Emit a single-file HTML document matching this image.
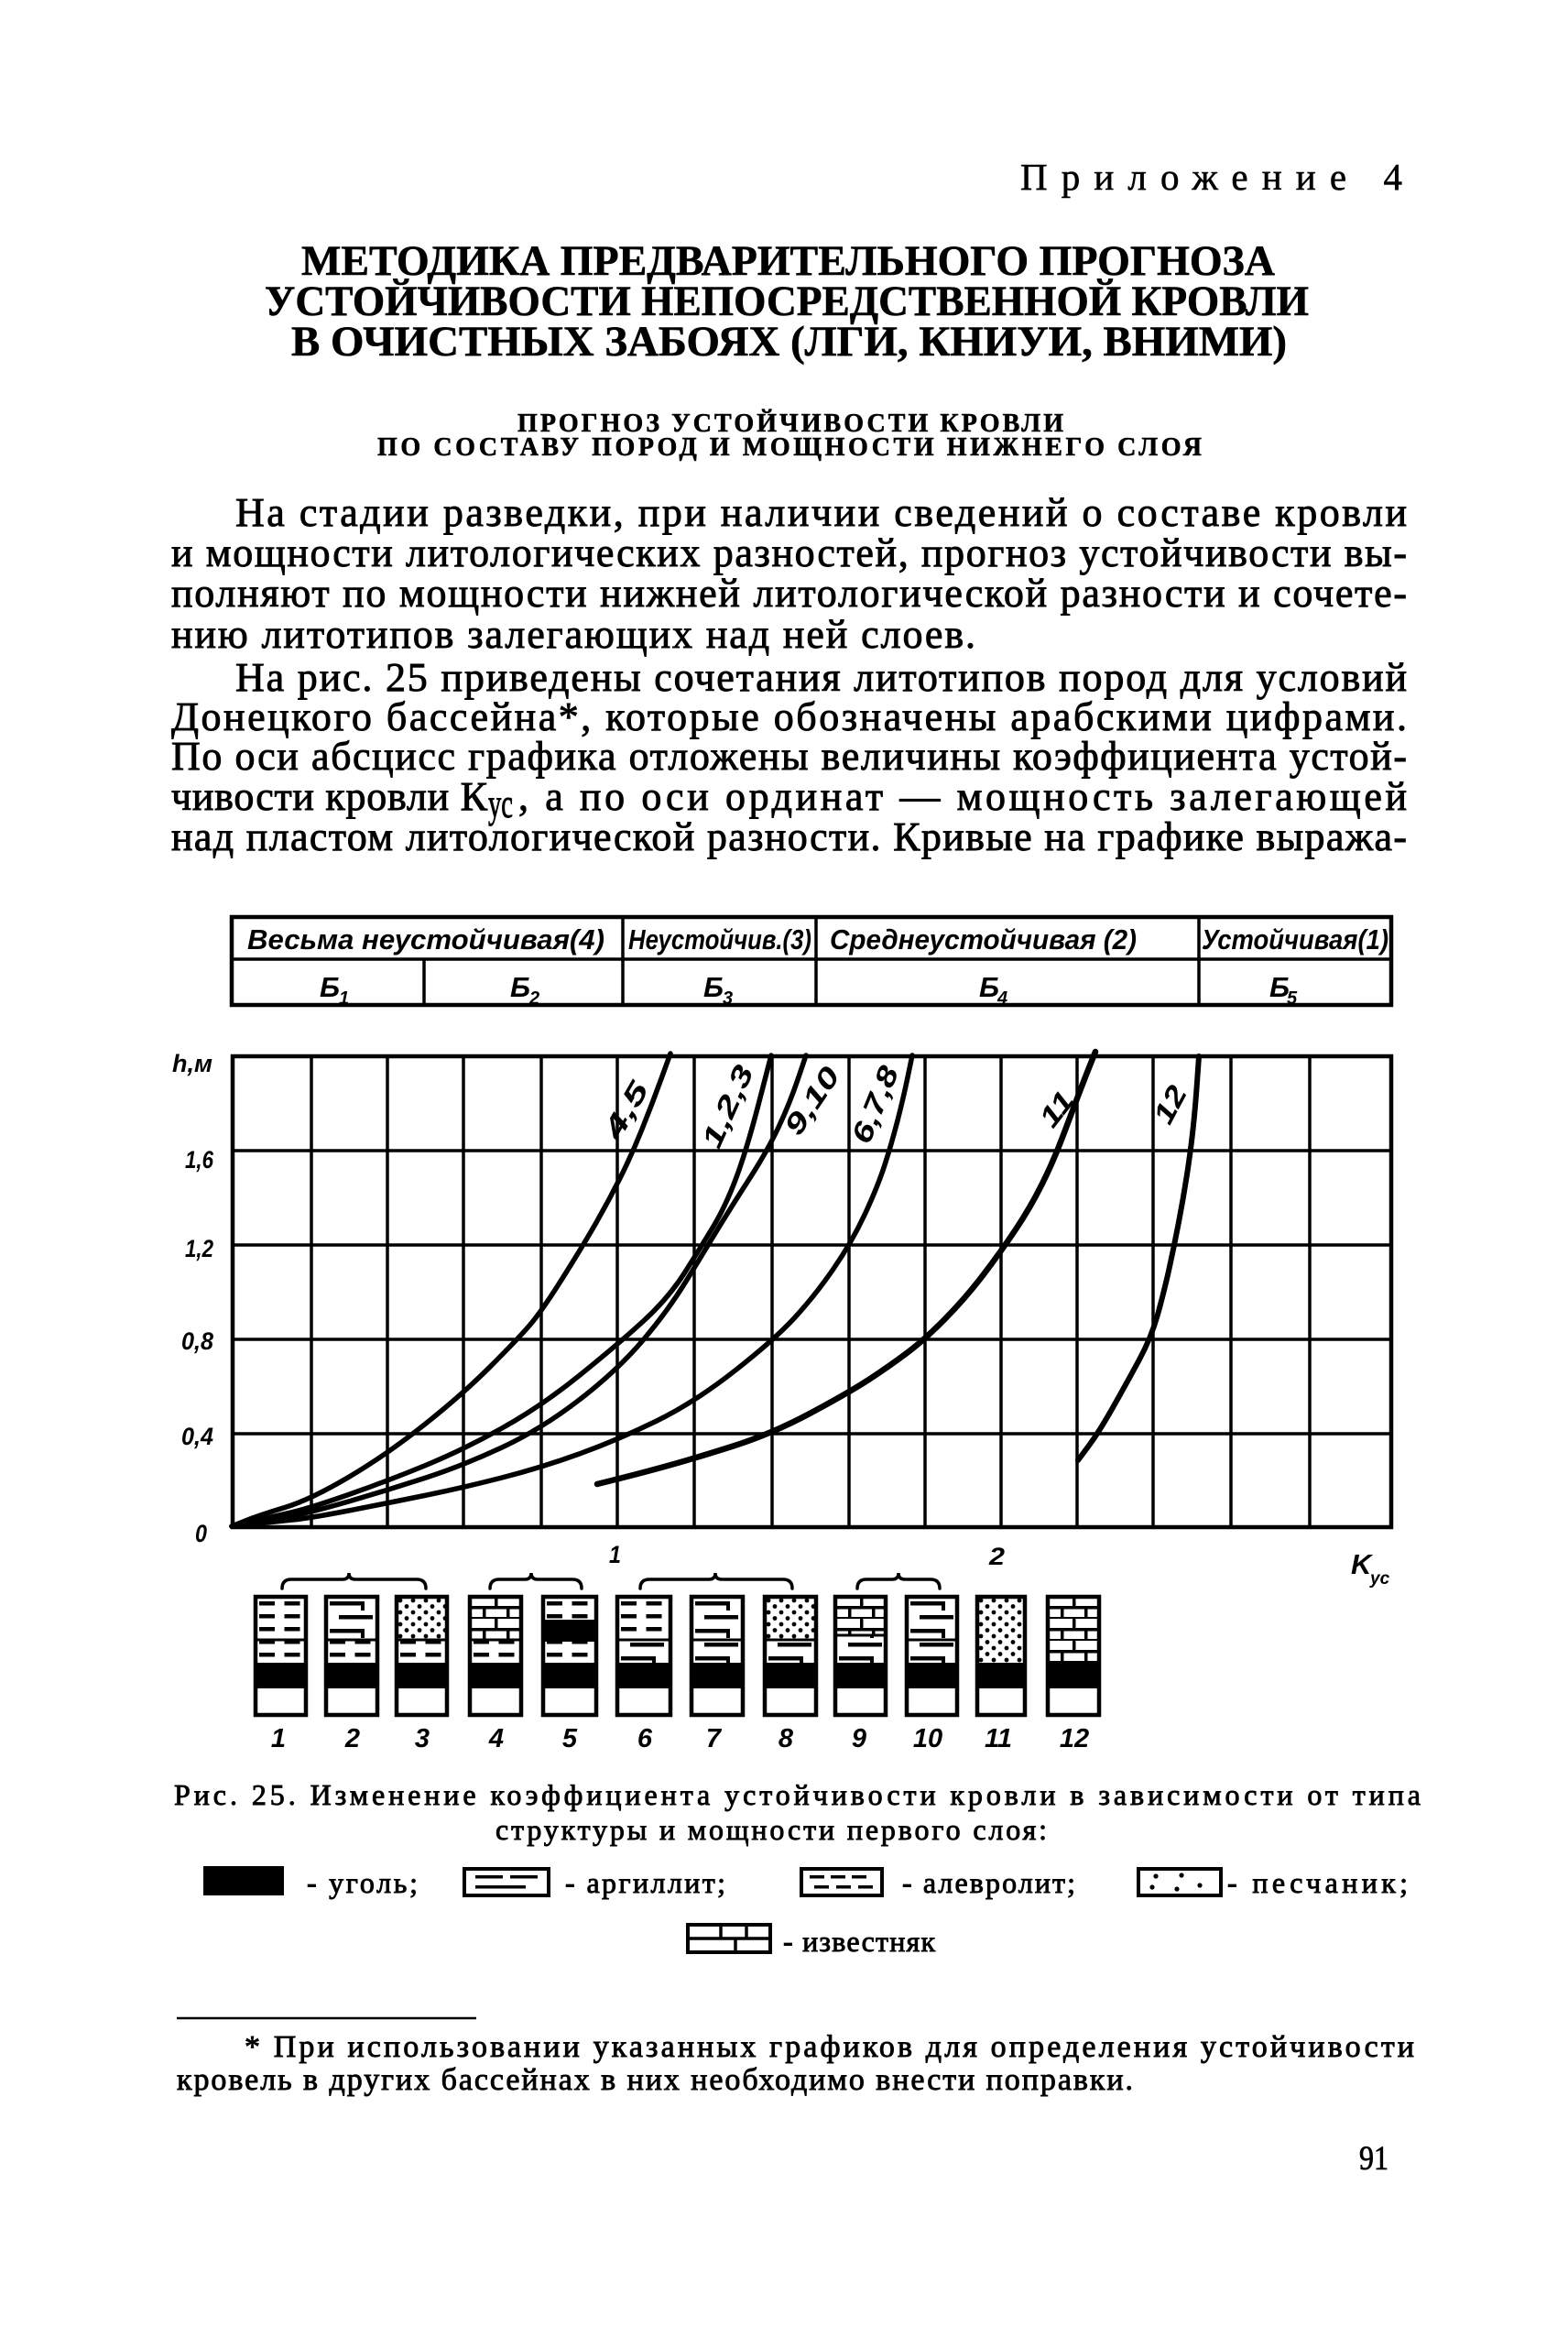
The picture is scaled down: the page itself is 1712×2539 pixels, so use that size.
<!DOCTYPE html>
<html><head><meta charset="utf-8">
<style>
html,body{margin:0;padding:0;background:#fff;width:1712px;height:2539px;overflow:hidden}
svg{display:block}
.serif{font-family:"Liberation Serif",serif}
.body{font-family:"Liberation Serif",serif;font-size:44px;stroke:#000;stroke-width:0.9}
.ttl{font-family:"Liberation Serif",serif;font-weight:bold;stroke:#000;stroke-width:0.6}
.it{font-family:"Liberation Sans",sans-serif;font-style:italic;font-weight:bold}
.cap{font-family:"Liberation Serif",serif;font-size:32px;stroke:#000;stroke-width:0.9}
</style></head>
<body>
<svg xmlns="http://www.w3.org/2000/svg" width="1712" height="2539" viewBox="0 0 1712 2539">
<defs>
<pattern id="alev" patternUnits="userSpaceOnUse" width="27.5" height="14"><rect x="4" y="5" width="17" height="4.5" fill="#000"/></pattern>
<pattern id="argil" patternUnits="userSpaceOnUse" width="55" height="30"><rect x="4" y="5" width="38" height="4.5" fill="#000"/><rect x="14" y="20" width="37" height="4.5" fill="#000"/><rect x="38" y="5" width="4" height="10" fill="#000"/></pattern>
<pattern id="sand" patternUnits="userSpaceOnUse" width="14" height="13"><circle cx="4" cy="4" r="2.4" fill="#000"/><circle cx="11" cy="10.5" r="2.4" fill="#000"/></pattern>
<pattern id="lime" patternUnits="userSpaceOnUse" width="55" height="24"><rect x="0" y="10" width="55" height="3.5" fill="#000"/><rect x="0" y="22" width="55" height="3.5" fill="#000"/><rect x="27" y="0" width="3.5" height="12" fill="#000"/><rect x="14" y="12" width="3.5" height="12" fill="#000"/><rect x="40" y="12" width="3.5" height="12" fill="#000"/></pattern>
</defs>
<rect width="1712" height="2539" fill="#fff"/>

<!-- Header -->
<text class="serif" x="1114" y="207" font-size="41" stroke="#000" stroke-width="0.6" textLength="417" lengthAdjust="spacing">Приложение 4</text>
<text class="ttl" x="329" y="300" font-size="47" textLength="1063" lengthAdjust="spacingAndGlyphs">МЕТОДИКА ПРЕДВАРИТЕЛЬНОГО ПРОГНОЗА</text>
<text class="ttl" x="289" y="344" font-size="47" textLength="1140" lengthAdjust="spacingAndGlyphs">УСТОЙЧИВОСТИ НЕПОСРЕДСТВЕННОЙ КРОВЛИ</text>
<text class="ttl" x="318" y="388" font-size="47" textLength="1087" lengthAdjust="spacingAndGlyphs">В ОЧИСТНЫХ ЗАБОЯХ (ЛГИ, КНИУИ, ВНИМИ)</text>
<text class="ttl" x="565" y="471" font-size="28" textLength="596" lengthAdjust="spacing">ПРОГНОЗ УСТОЙЧИВОСТИ КРОВЛИ</text>
<text class="ttl" x="412" y="497" font-size="28" textLength="900" lengthAdjust="spacing">ПО СОСТАВУ ПОРОД И МОЩНОСТИ НИЖНЕГО СЛОЯ</text>

<!-- Body -->
<text class="body" x="257" y="574" textLength="1279" lengthAdjust="spacing">На стадии разведки, при наличии сведений о составе кровли</text>
<text class="body" x="187" y="618" textLength="1349" lengthAdjust="spacing">и мощности литологических разностей, прогноз устойчивости вы-</text>
<text class="body" x="187" y="662" textLength="1349" lengthAdjust="spacing">полняют по мощности нижней литологической разности и сочете-</text>
<text class="body" x="187" y="707" textLength="878" lengthAdjust="spacing">нию литотипов залегающих над ней слоев.</text>
<text class="body" x="257" y="754" textLength="1279" lengthAdjust="spacing">На рис. 25 приведены сочетания литотипов пород для условий</text>
<text class="body" x="187" y="797" textLength="1349" lengthAdjust="spacing">Донецкого бассейна*, которые обозначены арабскими цифрами.</text>
<text class="body" x="187" y="840" textLength="1349" lengthAdjust="spacing">По оси абсцисс графика отложены величины коэффициента устой-</text>
<text class="body" x="187" y="884" textLength="345" lengthAdjust="spacing">чивости кровли К</text>
<text class="body" x="533" y="892" font-size="26" textLength="27" lengthAdjust="spacingAndGlyphs">ус</text>
<text class="body" x="566" y="884" textLength="970" lengthAdjust="spacing">, а по оси ординат — мощность залегающей</text>
<text class="body" x="187" y="928" textLength="1349" lengthAdjust="spacing">над пластом литологической разности. Кривые на графике выража-</text>

<!-- Table -->
<g stroke="#000" fill="none">
<rect x="253" y="1001" width="1266" height="96" stroke-width="4.5"/>
<path d="M253,1047H1519" stroke-width="3.5"/>
<path d="M680,1001V1097 M891,1001V1097 M1309,1001V1097 M463,1047V1097" stroke-width="3.5"/>
</g>
<text class="it" x="270" y="1036" font-size="31" textLength="390" lengthAdjust="spacingAndGlyphs">Весьма  неустойчивая(4)</text>
<text class="it" x="686" y="1036" font-size="31" textLength="200" lengthAdjust="spacingAndGlyphs">Неустойчив.(3)</text>
<text class="it" x="906" y="1036" font-size="31" textLength="335" lengthAdjust="spacingAndGlyphs">Среднеустойчивая (2)</text>
<text class="it" x="1312" y="1036" font-size="31" textLength="204" lengthAdjust="spacingAndGlyphs">Устойчивая(1)</text>
<g class="it">
<text x="349" y="1088" font-size="31">Б</text><text x="370" y="1096" font-size="20">1</text>
<text x="557" y="1088" font-size="31">Б</text><text x="578" y="1096" font-size="20">2</text>
<text x="768" y="1088" font-size="31">Б</text><text x="789" y="1096" font-size="20">3</text>
<text x="1069" y="1088" font-size="31">Б</text><text x="1089" y="1096" font-size="20">4</text>
<text x="1386" y="1088" font-size="31">Б</text><text x="1405" y="1096" font-size="20">5</text>
</g>

<!-- Grid -->
<g stroke="#000" fill="none">
<path d="M340,1153V1667 M423,1153V1667 M506,1153V1667 M591,1153V1667 M674,1153V1667 M758,1153V1667 M843,1153V1667 M927,1153V1667 M1010,1153V1667 M1093,1153V1667 M1176,1153V1667 M1259,1153V1667 M1344,1153V1667 M1430,1153V1667 M254,1256H1519 M254,1359H1519 M254,1462H1519 M254,1565H1519" stroke-width="3.5"/>
<rect x="254" y="1153" width="1265" height="514" stroke-width="4.5"/>
</g>

<!-- Axis labels -->
<g class="it" font-size="27">
<text x="188" y="1170" textLength="44" lengthAdjust="spacingAndGlyphs">h,м</text>
<text x="202" y="1275" textLength="31" lengthAdjust="spacingAndGlyphs">1,6</text>
<text x="202" y="1372" textLength="31" lengthAdjust="spacingAndGlyphs">1,2</text>
<text x="198" y="1473" textLength="35" lengthAdjust="spacingAndGlyphs">0,8</text>
<text x="198" y="1577" textLength="35" lengthAdjust="spacingAndGlyphs">0,4</text>
<text x="213" y="1683" textLength="13" lengthAdjust="spacingAndGlyphs">0</text>
<text x="665" y="1706" textLength="13" lengthAdjust="spacingAndGlyphs">1</text>
<text x="1080" y="1708" textLength="17" lengthAdjust="spacingAndGlyphs">2</text>
<text x="1475" y="1718" font-size="31">K</text>
<text x="1496" y="1729" font-size="19">ус</text>
</g>

<!-- Curves -->
<g stroke="#000" fill="none" stroke-linecap="round" stroke-linejoin="round" stroke-width="5.5">
<path d="M253,1666 L268,1660 Q283,1654 311,1645.5 Q339,1637 380.5,1612.5 Q422,1588 463.5,1555 Q505,1522 535,1492 Q565,1462 578,1447 Q591,1432 614,1395.5 Q637,1359 651,1334.5 Q665,1310 677.5,1285 Q690,1260 701,1232.5 Q712,1205 722,1177.5 L732,1150"/>
<path d="M253,1666 L276.5,1660.5 Q300,1655 319.5,1650.5 Q339,1646 380.5,1631.5 Q422,1617 463.5,1600 Q505,1583 548,1559 Q591,1535 632.5,1501.5 Q674,1468 702,1442.5 Q730,1417 748,1388.5 Q766,1360 779,1338.5 Q792,1317 803.5,1286.5 Q815,1256 828.5,1204 L842,1152"/>
<path d="M253,1666 L276.5,1662 Q300,1658 319.5,1654.5 Q339,1651 380.5,1639 Q422,1627 463.5,1613.5 Q505,1600 548,1580 Q591,1560 632.5,1528 Q674,1496 702,1463 Q730,1430 750,1397 Q770,1364 785,1339.5 Q800,1315 819,1285.5 Q838,1256 850,1230.5 Q862,1205 871,1178.5 L880,1152"/>
<path d="M253,1666 L276.5,1663.5 Q300,1661 319.5,1659 Q339,1657 380.5,1649 Q422,1641 463.5,1632.5 Q505,1624 548,1613 Q591,1602 632.5,1587 Q674,1572 716,1551.5 Q758,1531 802,1496.5 Q846,1462 868,1438 Q890,1414 910,1385 Q930,1356 944,1326 Q958,1296 965.5,1273 Q973,1250 979.5,1225 Q986,1200 991,1176 L996,1152"/>
<path stroke-width="6.5" d="M652,1620 L676,1614 Q700,1608 729,1600 Q758,1592 800.5,1578.5 Q843,1565 885,1542.5 Q927,1520 948.5,1506 Q970,1492 990,1477 Q1010,1462 1032.5,1439 Q1055,1416 1074,1391 Q1093,1366 1109,1342 Q1125,1318 1137.5,1293 Q1150,1268 1160,1241.5 Q1170,1215 1177,1196.5 Q1184,1178 1190,1163 L1196,1148"/>
<path stroke-width="6" d="M1177,1594 L1188.5,1578.5 Q1200,1563 1215,1536.5 Q1230,1510 1243.5,1485 Q1257,1460 1264,1435 Q1271,1410 1276.5,1385 Q1282,1360 1287,1334 Q1292,1308 1296,1282 Q1300,1256 1302.5,1233 Q1305,1210 1307,1181.5 L1309,1153"/>
</g>

<!-- Curve labels -->
<g class="it" font-size="31" text-anchor="middle">
<text x="0" y="10" transform="translate(684,1212) rotate(-60)" textLength="66" lengthAdjust="spacingAndGlyphs">4,5</text>
<text x="0" y="10" transform="translate(795,1208) rotate(-66)" textLength="95" lengthAdjust="spacingAndGlyphs">1,2,3</text>
<text x="0" y="10" transform="translate(887,1202) rotate(-56)" textLength="82" lengthAdjust="spacingAndGlyphs">9,10</text>
<text x="0" y="10" transform="translate(956,1206) rotate(-68)" textLength="88" lengthAdjust="spacingAndGlyphs">6,7,8</text>
<text x="0" y="10" transform="translate(1154,1211) rotate(-52)" textLength="40" lengthAdjust="spacingAndGlyphs">11</text>
<text x="0" y="10" transform="translate(1278,1206) rotate(-62)" textLength="42" lengthAdjust="spacingAndGlyphs">12</text>
</g>

<!-- Brackets -->
<g stroke="#000" fill="none" stroke-width="3.5" stroke-linecap="round">
<path d="M308,1734 Q308,1724 318,1724 L374,1724 Q381,1724 381,1717 Q381,1724 388,1724 L455,1724 Q465,1724 465,1734"/>
<path d="M535,1734 Q535,1724 545,1724 L573,1724 Q580,1724 580,1717 Q580,1724 587,1724 L625,1724 Q635,1724 635,1734"/>
<path d="M699,1734 Q699,1724 709,1724 L774,1724 Q781,1724 781,1717 Q781,1724 788,1724 L855,1724 Q865,1724 865,1734"/>
<path d="M936,1734 Q936,1724 946,1724 L974,1724 Q981,1724 981,1717 Q981,1724 988,1724 L1016,1724 Q1026,1724 1026,1734"/>
</g>

<!-- Columns -->
<g transform="translate(279,1743)"><rect width="55" height="47" fill="url(#alev)"/><rect y="47" width="55" height="25" fill="url(#alev)"/><rect y="72" width="55" height="28" fill="#000"/><path d="M0,47H55" stroke="#000" stroke-width="3"/><rect width="55" height="129" fill="none" stroke="#000" stroke-width="4.5"/></g>
<g transform="translate(356,1743)"><rect width="56" height="47" fill="url(#argil)"/><rect y="47" width="56" height="25" fill="url(#alev)"/><rect y="72" width="56" height="28" fill="#000"/><path d="M0,47H56" stroke="#000" stroke-width="3"/><rect width="56" height="129" fill="none" stroke="#000" stroke-width="4.5"/></g>
<g transform="translate(433,1743)"><rect width="55" height="47" fill="url(#sand)"/><rect y="47" width="55" height="25" fill="url(#alev)"/><rect y="72" width="55" height="28" fill="#000"/><path d="M0,47H55" stroke="#000" stroke-width="3"/><rect width="55" height="129" fill="none" stroke="#000" stroke-width="4.5"/></g>
<g transform="translate(513,1743)"><rect width="56" height="47" fill="url(#lime)"/><rect y="47" width="56" height="25" fill="url(#alev)"/><rect y="72" width="56" height="28" fill="#000"/><path d="M0,47H56" stroke="#000" stroke-width="3"/><rect width="56" height="129" fill="none" stroke="#000" stroke-width="4.5"/></g>
<g transform="translate(593,1743)"><rect width="58" height="25" fill="url(#alev)"/><rect y="25" width="58" height="24" fill="#000"/><rect y="49" width="58" height="23" fill="url(#alev)"/><rect y="72" width="58" height="28" fill="#000"/><rect width="58" height="129" fill="none" stroke="#000" stroke-width="4.5"/></g>
<g transform="translate(674,1743)"><rect width="58" height="47" fill="url(#alev)"/><rect y="47" width="58" height="25" fill="url(#argil)"/><rect y="72" width="58" height="28" fill="#000"/><path d="M0,47H58" stroke="#000" stroke-width="3"/><rect width="58" height="129" fill="none" stroke="#000" stroke-width="4.5"/></g>
<g transform="translate(755,1743)"><rect width="56" height="47" fill="url(#argil)"/><rect y="47" width="56" height="25" fill="url(#argil)"/><rect y="72" width="56" height="28" fill="#000"/><path d="M0,47H56" stroke="#000" stroke-width="3"/><rect width="56" height="129" fill="none" stroke="#000" stroke-width="4.5"/></g>
<g transform="translate(835,1743)"><rect width="56" height="47" fill="url(#sand)"/><rect y="47" width="56" height="25" fill="url(#argil)"/><rect y="72" width="56" height="28" fill="#000"/><path d="M0,47H56" stroke="#000" stroke-width="3"/><rect width="56" height="129" fill="none" stroke="#000" stroke-width="4.5"/></g>
<g transform="translate(912,1743)"><rect width="55" height="42" fill="url(#lime)"/><rect y="42" width="55" height="30" fill="url(#argil)"/><rect y="72" width="55" height="28" fill="#000"/><path d="M0,42H55" stroke="#000" stroke-width="3"/><rect width="55" height="129" fill="none" stroke="#000" stroke-width="4.5"/></g>
<g transform="translate(990,1743)"><rect width="55" height="47" fill="url(#argil)"/><rect y="47" width="55" height="25" fill="url(#argil)"/><rect y="72" width="55" height="28" fill="#000"/><path d="M0,47H55" stroke="#000" stroke-width="3"/><rect width="55" height="129" fill="none" stroke="#000" stroke-width="4.5"/></g>
<g transform="translate(1067,1743)"><rect width="52" height="72" fill="url(#sand)"/><rect y="72" width="52" height="28" fill="#000"/><rect width="52" height="129" fill="none" stroke="#000" stroke-width="4.5"/></g>
<g transform="translate(1144,1743)"><rect width="56" height="72" fill="url(#lime)"/><rect y="72" width="56" height="28" fill="#000"/><rect width="56" height="129" fill="none" stroke="#000" stroke-width="4.5"/></g>

<!-- Column numbers -->
<g class="it" font-size="29" text-anchor="middle">
<text x="304" y="1907">1</text><text x="385" y="1907">2</text><text x="461" y="1907">3</text>
<text x="542" y="1907">4</text><text x="622" y="1907">5</text><text x="704" y="1907">6</text>
<text x="779" y="1907">7</text><text x="858" y="1907">8</text><text x="938" y="1907">9</text>
<text x="1013" y="1907">10</text><text x="1090" y="1907">11</text><text x="1173" y="1907">12</text>
</g>

<!-- Caption -->
<text class="cap" x="190" y="1970" textLength="1361" lengthAdjust="spacing">Рис. 25. Изменение коэффициента устойчивости кровли в зависимости от типа</text>
<text class="cap" x="541" y="2008" textLength="602" lengthAdjust="spacing">структуры и мощности первого слоя:</text>

<!-- Legend -->
<rect x="222" y="2037" width="88" height="32" fill="#000"/>
<text class="cap" x="335" y="2066" textLength="121" lengthAdjust="spacing">- уголь;</text>
<rect x="507" y="2040" width="92" height="29" fill="none" stroke="#000" stroke-width="4"/>
<rect x="519" y="2047" width="30" height="3.5"/><rect x="557" y="2047" width="30" height="3.5"/><rect x="519" y="2058" width="55" height="3.5"/>
<text class="cap" x="617" y="2066" textLength="175" lengthAdjust="spacing">- аргиллит;</text>
<rect x="875" y="2040" width="88" height="29" fill="none" stroke="#000" stroke-width="4"/>
<rect x="884" y="2047" width="16" height="3.5"/><rect x="907" y="2047" width="16" height="3.5"/><rect x="930" y="2047" width="16" height="3.5"/>
<rect x="889" y="2058" width="16" height="3.5"/><rect x="913" y="2058" width="16" height="3.5"/><rect x="937" y="2058" width="16" height="3.5"/>
<text class="cap" x="985" y="2066" textLength="189" lengthAdjust="spacing">- алевролит;</text>
<rect x="1243" y="2040" width="90" height="29" fill="none" stroke="#000" stroke-width="4"/>
<circle cx="1262" cy="2048" r="2.6"/><circle cx="1290" cy="2047" r="2.6"/><circle cx="1258" cy="2060" r="2.6"/><circle cx="1285" cy="2062" r="2.6"/><circle cx="1310" cy="2058" r="2.6"/>
<text class="cap" x="1340" y="2066" textLength="197" lengthAdjust="spacing">- песчаник;</text>
<rect x="751" y="2101" width="90" height="30" fill="none" stroke="#000" stroke-width="4"/>
<path d="M751,2116H841 M787,2101V2116 M815,2101V2116 M803,2116V2131" stroke="#000" stroke-width="3.5"/>
<text class="cap" x="855" y="2130" textLength="166" lengthAdjust="spacing">- известняк</text>

<!-- Footnote -->
<path d="M193,2203H520" stroke="#000" stroke-width="2.5"/>
<text class="serif" x="267" y="2245" font-size="34" stroke="#000" stroke-width="0.9" textLength="1277" lengthAdjust="spacing">* При использовании указанных графиков для определения устойчивости</text>
<text class="serif" x="193" y="2281" font-size="34" stroke="#000" stroke-width="0.9" textLength="1044" lengthAdjust="spacing">кровель в других бассейнах в них необходимо внести поправки.</text>
<text class="serif" x="1484" y="2368" font-size="37" stroke="#000" stroke-width="0.8" textLength="32" lengthAdjust="spacingAndGlyphs">91</text>
</svg>
</body></html>
